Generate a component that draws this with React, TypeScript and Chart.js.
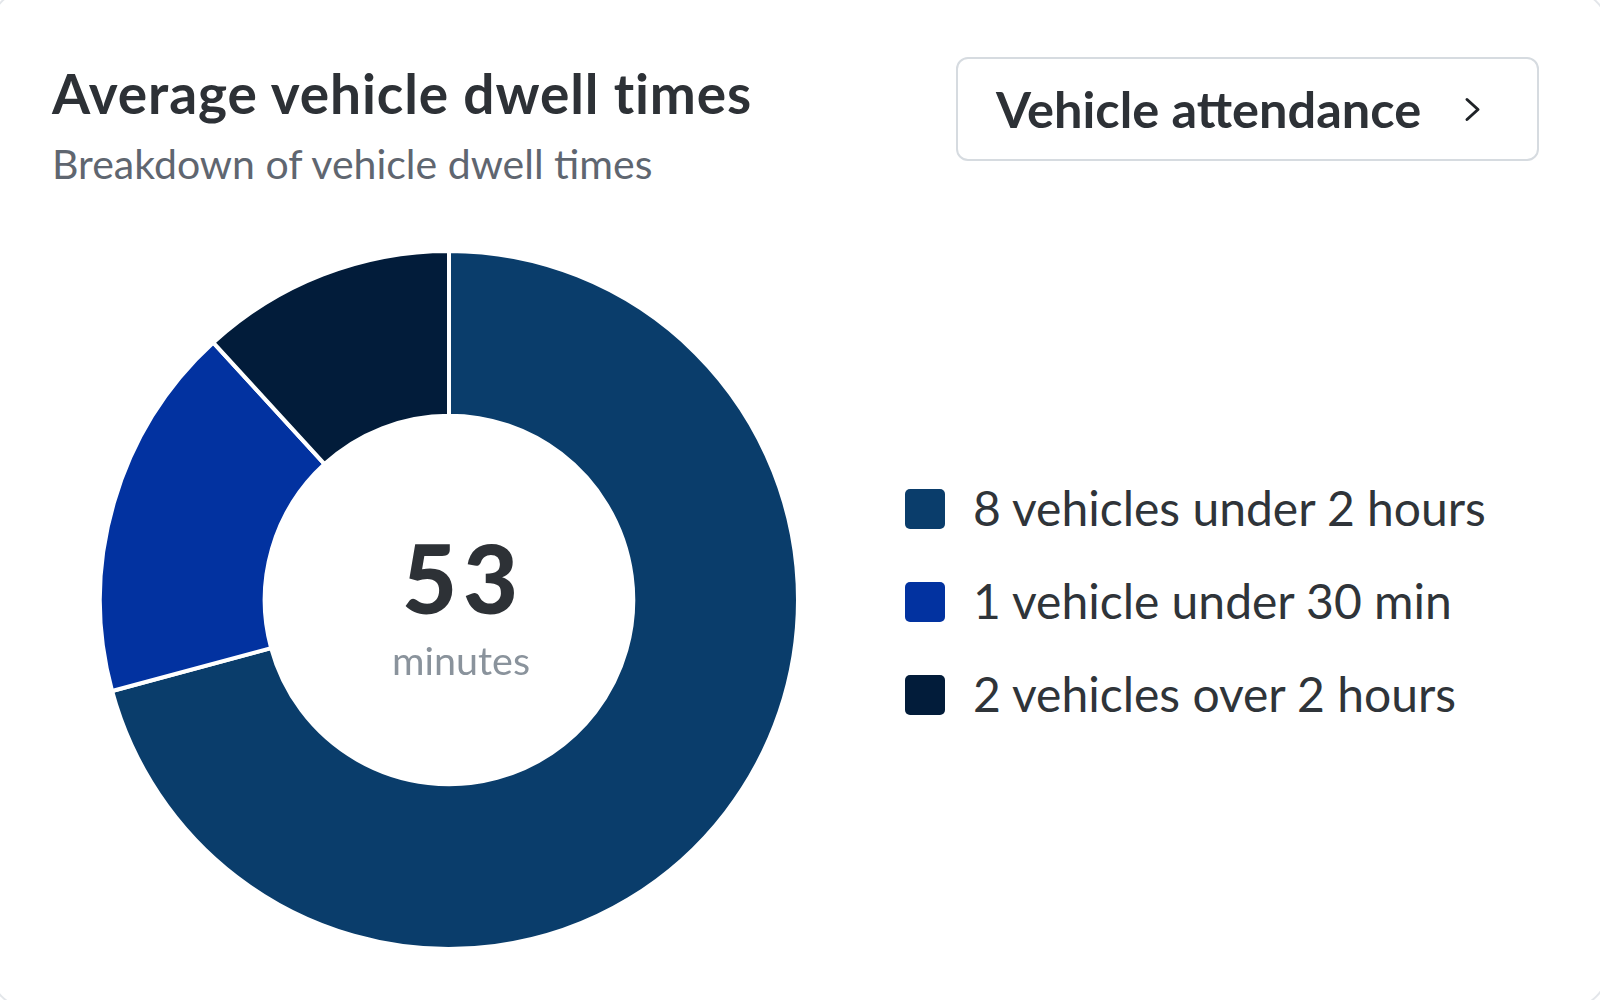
import React, { useEffect, useRef } from "react";
import { Chart, registerables } from "chart.js";

Chart.register(...registerables);

const title = "Average vehicle dwell times";
const subtitle = "Breakdown of vehicle dwell times";
const buttonLabel = "Vehicle attendance";
const centerValue = "53";
const centerUnit = "minutes";

const categories = [
  "8 vehicles under 2 hours",
  "1 vehicle under 30 min",
  "2 vehicles over 2 hours",
];
const shares = [70.8, 17.4, 11.8];
const colors = ["#0a3d6b", "#0232a0", "#021c3a"];

const FONT = "Lato, 'Open Sans', sans-serif";

export default function App() {
  const canvasRef = useRef<HTMLCanvasElement | null>(null);

  useEffect(() => {
    if (!canvasRef.current) return;
    const chart = new Chart(canvasRef.current, {
      type: "doughnut",
      data: {
        labels: categories,
        datasets: [
          {
            data: shares,
            backgroundColor: colors,
            borderColor: "#ffffff",
            borderWidth: 4,
            hoverOffset: 0,
          },
        ],
      },
      options: {
        animation: false,
        responsive: false,
        maintainAspectRatio: false,
        cutout: "52.8%",
        layout: { padding: 0 },
        plugins: {
          legend: { display: false },
          tooltip: { enabled: false },
        },
      },
    });
    return () => chart.destroy();
  }, []);

  return (
    <div
      style={{
        position: "absolute",
        left: 0,
        top: 0,
        width: 1600,
        height: 1000,
        background: "#ffffff",
        overflow: "hidden",
        fontFamily: FONT,
      }}
    >
      <div
        style={{
          position: "absolute",
          left: -12,
          top: -12,
          width: 1622,
          height: 1022,
          border: "2px solid #e3e6ea",
          borderRadius: 44,
          boxSizing: "border-box",
        }}
      />
      <div
        style={{
          position: "absolute",
          left: 52,
          top: 66,
          fontSize: 55,
          fontWeight: 700,
          color: "#2d3136",
          whiteSpace: "nowrap",
          lineHeight: "55px",
          letterSpacing: 0.9,
        }}
      >
        {title}
      </div>
      <div
        style={{
          position: "absolute",
          left: 52,
          top: 143,
          fontSize: 41,
          fontWeight: 400,
          color: "#5f6670",
          whiteSpace: "nowrap",
          lineHeight: "41px",
        }}
      >
        {subtitle}
      </div>
      <div
        style={{
          position: "absolute",
          left: 956,
          top: 57,
          width: 583,
          height: 104,
          border: "2px solid #d6dbe0",
          borderRadius: 12,
          boxSizing: "border-box",
        }}
      >
        <div
          style={{
            position: "absolute",
            left: 38,
            top: 24,
            fontSize: 50.5,
            fontWeight: 700,
            color: "#2d3136",
            lineHeight: "51px",
            whiteSpace: "nowrap",
          }}
        >
          {buttonLabel}
        </div>
        <svg
          style={{ position: "absolute", left: 506, top: 38 }}
          width="17"
          height="25"
          viewBox="0 0 17 25"
        >
          <polyline
            points="3,2.5 14,12.5 3,22.5"
            fill="none"
            stroke="#1f2327"
            strokeWidth="3"
            strokeLinecap="round"
            strokeLinejoin="round"
          />
        </svg>
      </div>

      <canvas
        ref={canvasRef}
        width={702}
        height={702}
        style={{ position: "absolute", left: 98, top: 249, width: 702, height: 702 }}
      />

      <div
        style={{
          position: "absolute",
          left: 310,
          top: 530,
          width: 300,
          paddingLeft: 6,
          boxSizing: "border-box",
          textAlign: "center",
          fontSize: 95,
          fontWeight: 900,
          color: "#2d3136",
          lineHeight: "95px",
          letterSpacing: 6,
        }}
      >
        {centerValue}
      </div>
      <div
        style={{
          position: "absolute",
          left: 311,
          top: 640,
          width: 300,
          textAlign: "center",
          fontSize: 39.5,
          fontWeight: 400,
          color: "#8a939c",
          lineHeight: "39px",
        }}
      >
        {centerUnit}
      </div>

      {categories.map((label, i) => (
        <div
          key={label}
          style={{
            position: "absolute",
            left: 905,
            top: 489 + i * 93,
            height: 40,
            display: "flex",
            alignItems: "center",
            whiteSpace: "nowrap",
          }}
        >
          <div
            style={{
              width: 40,
              height: 40,
              borderRadius: 5,
              background: colors[i],
              marginRight: 28,
            }}
          />
          <div
            style={{
              fontSize: 48,
              color: "#2f3439",
              lineHeight: "48px",
              position: "relative",
              top: -1,
            }}
          >
            {label}
          </div>
        </div>
      ))}
    </div>
  );
}
